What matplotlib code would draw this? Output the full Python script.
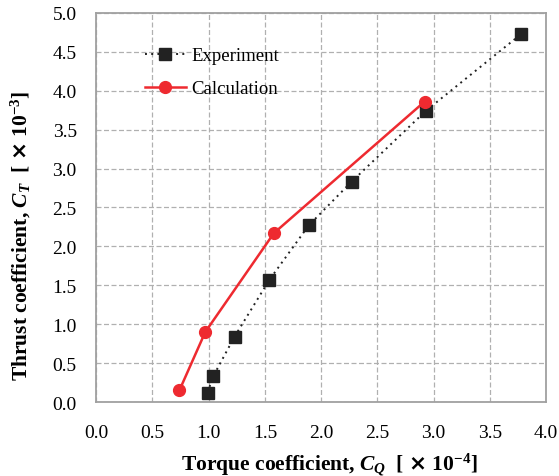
import matplotlib
matplotlib.use("Agg")
import matplotlib.pyplot as plt

plt.rcParams['font.family'] = ['Liberation Serif', 'DejaVu Serif']
plt.rcParams['mathtext.fontset'] = 'custom'
plt.rcParams['mathtext.rm'] = 'Liberation Serif:bold'
plt.rcParams['mathtext.it'] = 'Liberation Serif:italic:bold'
plt.rcParams['mathtext.bf'] = 'Liberation Serif:bold'
plt.rcParams['mathtext.sf'] = 'DejaVu Sans:bold'

# Measured thrust vs torque coefficients
exp_cq = [0.99, 1.04, 1.23, 1.54, 1.89, 2.27, 2.93, 3.78]
exp_ct = [0.12, 0.33, 0.84, 1.57, 2.27, 2.83, 3.74, 4.73]

# Computed values
calc_cq = [0.74, 0.97, 1.58, 2.92]
calc_ct = [0.15, 0.90, 2.17, 3.86]

xticks = [0.0, 0.5, 1.0, 1.5, 2.0, 2.5, 3.0, 3.5, 4.0]
yticks = [0.0, 0.5, 1.0, 1.5, 2.0, 2.5, 3.0, 3.5, 4.0, 4.5, 5.0]

fig = plt.figure(figsize=(5.59, 4.77), dpi=100)
ax = fig.add_axes([0.172, 0.155, 0.805, 0.816])

ax.plot(exp_cq, exp_ct, linestyle=(0, (1, 2.2)), color='#222222', lw=1.4,
        marker='s', ms=8, mfc='#222222', mec='#222222', label='Experiment', zorder=3)
ax.plot(calc_cq, calc_ct, linestyle='-', color='#ee2a30', lw=1.8,
        marker='o', ms=8.5, mfc='#ee2a30', mec='#ee2a30', label='Calculation', zorder=4)

ax.set_xlim(0, 4.0)
ax.set_ylim(0, 5.0)
ax.set_xticks(xticks)
ax.set_yticks(yticks)
ax.set_xticklabels([f"{v:.1f}" for v in xticks], fontsize=14)
ax.set_yticklabels([f"{v:.1f}" for v in yticks], fontsize=14)
ax.tick_params(axis='y', length=0, pad=14)
ax.tick_params(axis='x', length=0, pad=16)

ax.grid(True, linestyle=(0, (4, 2)), color='#b0b0b0', lw=0.9)
ax.set_axisbelow(True)
for s in ax.spines.values():
    s.set_color('#a0a0a0')
    s.set_linewidth(1.3)

ax.set_xlabel(r"Torque coefficient, $C_Q$  [ $\mathsf{\times}$ 10$^{-4}$]",
              fontsize=15.5, fontweight='bold', va='center')
ax.set_ylabel(r"Thrust coefficient, $C_T$  [ $\mathsf{\times}$ 10$^{-3}$]",
              fontsize=15.5, fontweight='bold', va='center')
ax.xaxis.set_label_coords(0.518, -0.158)
ax.yaxis.set_label_coords(-0.166, 0.43)

ax.legend(loc='upper left', bbox_to_anchor=(0.07, 0.955), frameon=False, fontsize=13.5,
          handlelength=2.2, labelspacing=0.85, handletextpad=0.3)

fig.savefig("out.png", dpi=100)
